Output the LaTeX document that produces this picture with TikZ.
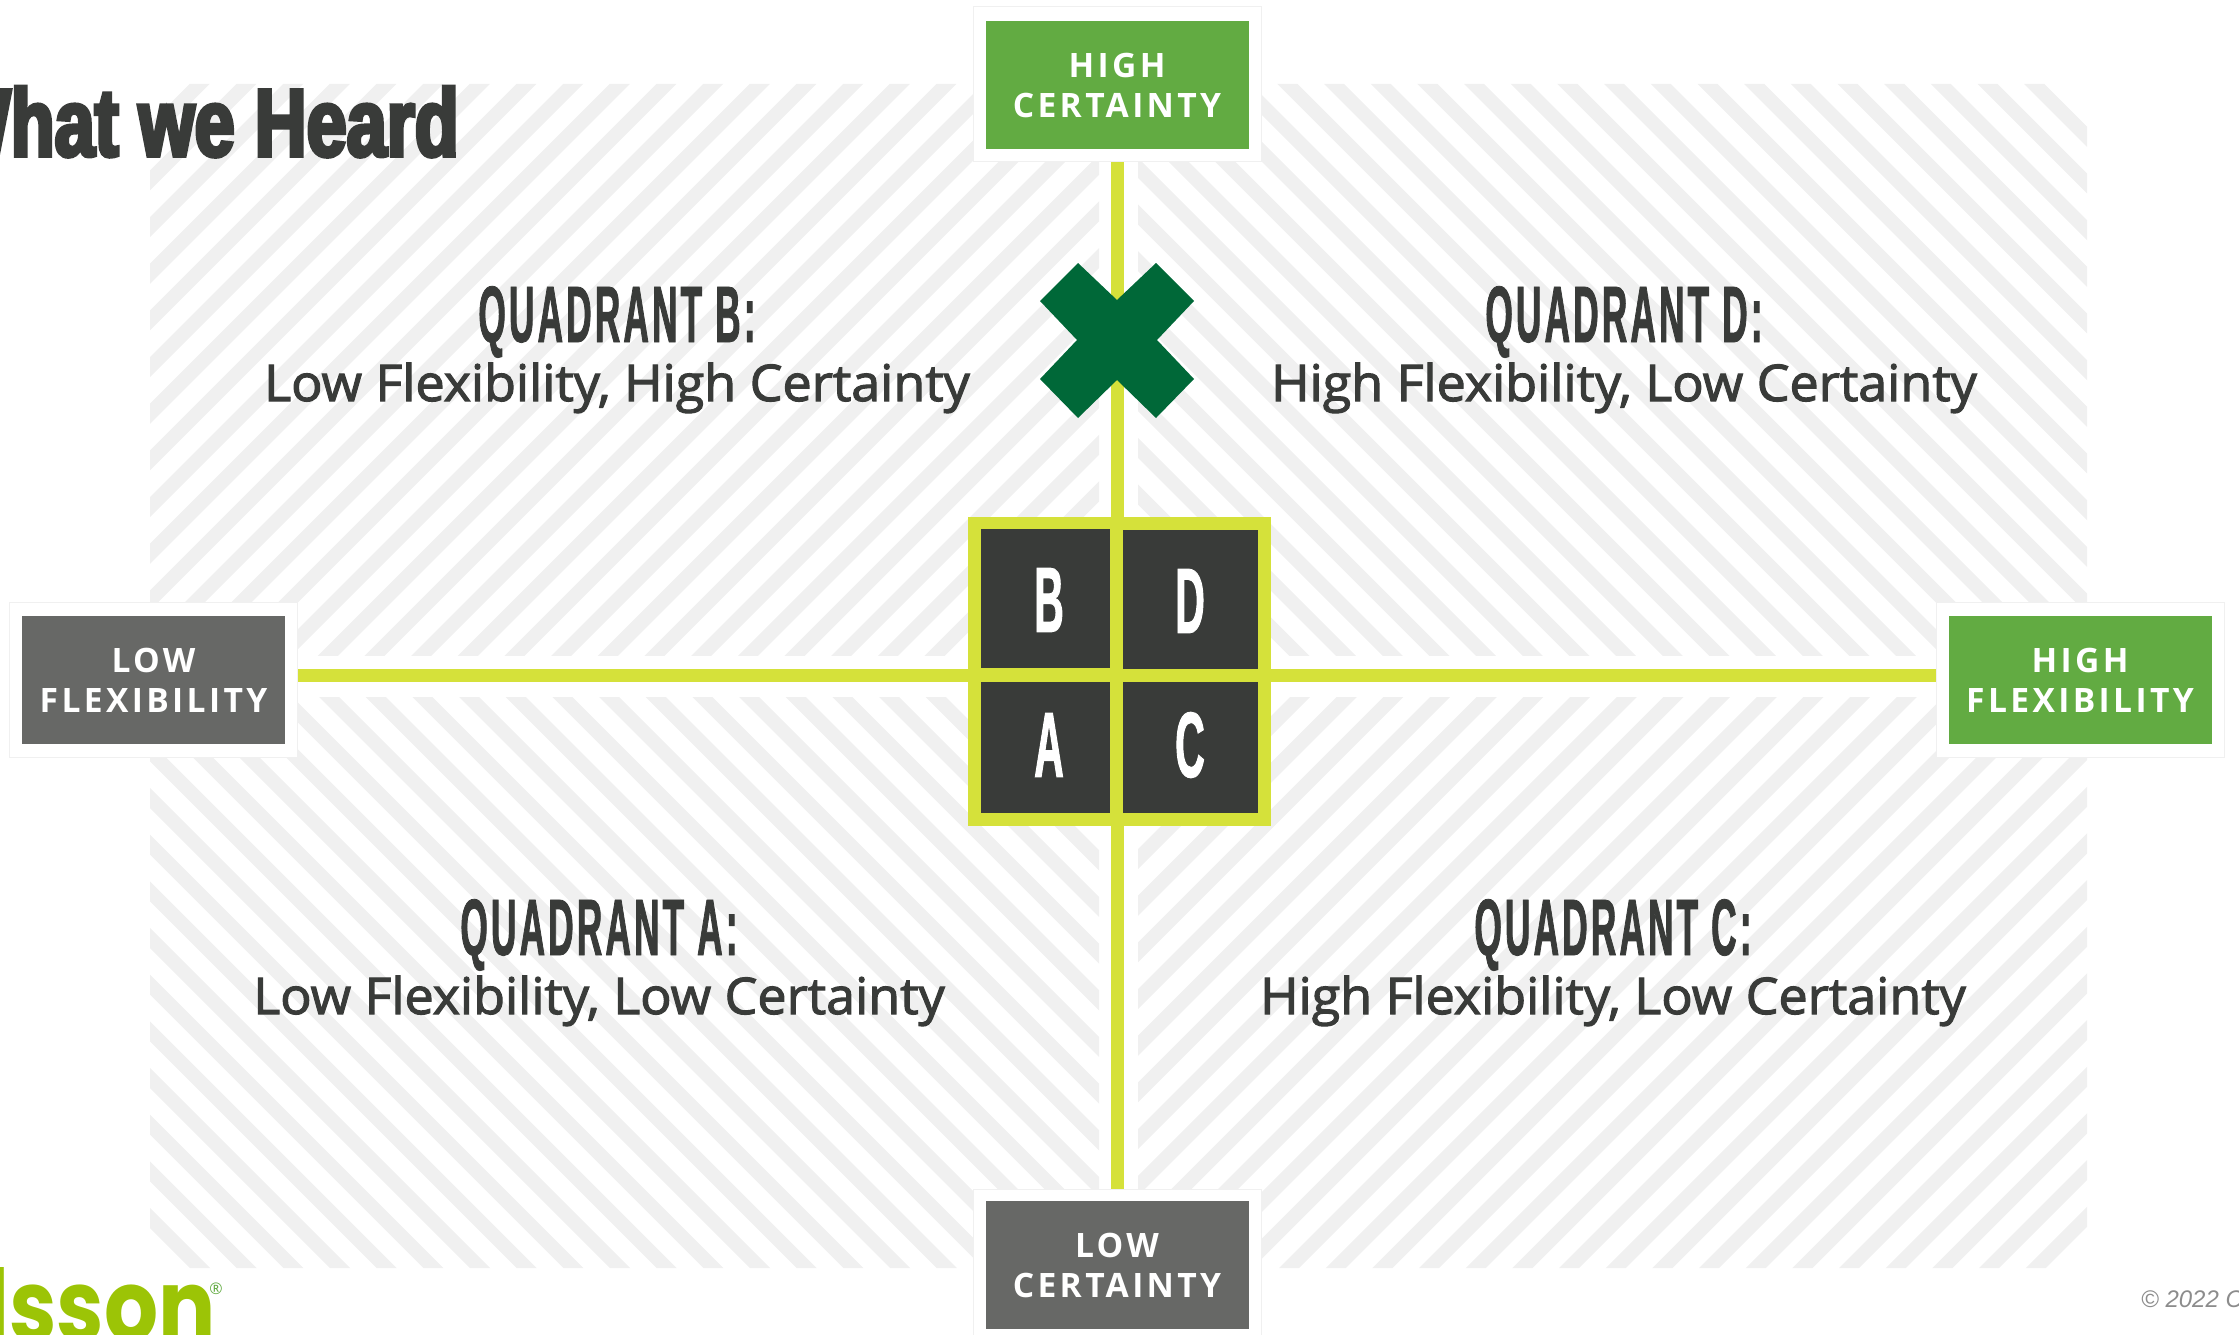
\documentclass[tikz,border=0pt]{standalone}
\usepackage{fontspec}
\setmainfont{Open Sans}
\newfontfamily\bodyfont[FakeBold=2.2,FakeStretch=1.03]{Open Sans}
\newfontfamily\tagfont[LetterSpace=10]{Open Sans}
\newfontfamily\headfont[FakeStretch=0.44,LetterSpace=4,FakeBold=1]{Liberation Sans Bold}
\newfontfamily\titlefont[FakeStretch=0.75,FakeBold=4]{Liberation Sans Bold}
\newfontfamily\logofont[FakeStretch=0.85]{Poppins}
\newfontfamily\copyfont{Liberation Sans Italic}
\definecolor{ink}{HTML}{393B39}
\definecolor{lime}{HTML}{D5E13A}
\definecolor{leaf}{HTML}{62AB42}
\definecolor{slate}{HTML}{676866}
\definecolor{forest}{HTML}{006838}
\definecolor{stripe}{HTML}{F0F0F0}
\definecolor{logogreen}{HTML}{9CC406}
\tikzset{
  x=1pt,y=-1pt,
  stripeline/.style={stripe,line width=14.2pt},
  halo/.style={fill=white,draw=black!6,line width=1pt,minimum width=288pt,minimum height=155pt,inner sep=0pt},
  tagbox/.style={minimum width=263pt,minimum height=128pt,inner sep=0pt,text=white,align=center,
    font=\tagfont\bfseries\fontsize{33.6}{40}\selectfont},
  axisline/.style={lime,line width=13pt},
  cell/.style={fill=ink,inner sep=0pt},
  cellmark/.style={inner sep=0pt,text=white,font=\headfont\fontsize{93}{93}\selectfont},
  qhead/.style={text=ink,inner sep=0pt,anchor=base,font=\headfont\fontsize{80}{80}\selectfont},
  qbody/.style={text=ink,inner sep=0pt,anchor=base,font=\bodyfont\fontsize{50.5}{50.5}\selectfont},
}
\begin{document}
\begin{tikzpicture}
\useasboundingbox (0,0) rectangle (2239,1335);
\clip (0,0) rectangle (2239,1335);
% logo
\node[anchor=base west,inner sep=0pt,text=logogreen,font=\logofont\bfseries\fontsize{100}{100}\selectfont] (logo) at (-16,1341) {lsson};
\node[inner sep=0pt,text=leaf,font=\fontsize{16}{16}\selectfont] (reg) at (216,1289) {®};
% hatching
\begin{scope}
  \clip[rounded corners=35pt] (150,84) -- (150,900) -- (1099,900) -- (1099,84) -- cycle;
  \clip (150,84) rectangle (1099,655);
  \foreach \k in {-3,...,33} \draw[stripeline] ({283.7+46.67*\k},0) -- ++(-1000,1000);
\end{scope}
\begin{scope}
  \clip[rounded corners=35pt] (1138,84) -- (1138,900) -- (2087,900) -- (2087,84) -- cycle;
  \clip (1138,84) rectangle (2087,655);
  \foreach \k in {-16,...,20} \draw[stripeline] ({1203.5+46.67*\k},0) -- ++(1000,1000);
\end{scope}
\begin{scope}
  \clip[rounded corners=35pt] (150,500) -- (150,1268) -- (1099,1268) -- (1099,500) -- cycle;
  \clip (150,697) rectangle (1099,1268);
  \foreach \k in {-3,...,34} \draw[stripeline] ({240+46.67*\k},1308) -- ++(-1100,-1100);
\end{scope}
\begin{scope}
  \clip[rounded corners=35pt] (1138,500) -- (1138,1268) -- (2087,1268) -- (2087,500) -- cycle;
  \clip (1138,697) rectangle (2087,1268);
  \foreach \k in {-34,...,6} \draw[stripeline] ({1902.5+46.67*\k},1308) -- ++(1100,-1100);
\end{scope}
% title
\node[anchor=base east,inner sep=0pt,text=ink,font=\titlefont\fontsize{96}{96}\selectfont] (title) at (459,156) {What we Heard};
% outer white plates
\node[halo] (topplate) at (1117,84.5) {};
\node[halo] (botplate) at (1117,1266.5) {};
\node[halo] (leftplate) at (153.5,679.5) {};
\node[halo] (rightplate) at (2080,679.5) {};
% centre frame and axes
\node[fill=lime,minimum width=303pt,minimum height=309pt,inner sep=0pt] (frame) at (1119.5,671.5) {};
\draw[axisline] (topplate.south) -- (botplate.north);
\draw[axisline] (leftplate.east |- 0,675) -- (rightplate.west |- 0,675);
% cross mark
\fill[forest] (1117,300) -- (1156,263) -- (1194,301) -- (1157,340) -- (1194,379) -- (1156,418) -- (1117,380) -- (1078,418) -- (1040,379) -- (1077,340) -- (1040,301) -- (1078,263) -- cycle;
% cells
\node[cell,minimum width=129pt,minimum height=139pt] (cb) at (1045.5,598.5) {};
\node[cell,minimum width=135pt,minimum height=139pt] (cd) at (1190.5,599.5) {};
\node[cell,minimum width=129pt,minimum height=131pt] (ca) at (1045.5,747.5) {};
\node[cell,minimum width=135pt,minimum height=131pt] (cc) at (1190.5,747.5) {};
\node[cellmark] (mb) at (1049,600) {B};
\node[cellmark] (md) at (1190,601) {D};
\node[cellmark] (ma) at (1049,745) {A};
\node[cellmark] (mc) at (1190,745) {C};
% tags
\node[tagbox,fill=leaf] (high certainty) at (topplate.center |- 0,85) {HIGH\\CERTAINTY};
\node[tagbox,fill=slate] (low certainty) at (botplate.center |- 0,1265) {LOW\\CERTAINTY};
\node[tagbox,fill=slate] (low flexibility) at (153.5,680) {LOW\\FLEXIBILITY};
\node[tagbox,fill=leaf] (high flexibility) at (2080,680) {HIGH\\FLEXIBILITY};
% quadrant texts
\node[qhead] (qb) at (617,342) {QUADRANT B:};
\node[qbody] (qbb) at (617,401) {Low Flexibility, High Certainty};
\node[qhead] (qd) at (1624,342) {QUADRANT D:};
\node[qbody] (qdb) at (1624,401) {High Flexibility, Low Certainty};
\node[qhead] (qa) at (599,955) {QUADRANT A:};
\node[qbody] (qab) at (599,1014) {Low Flexibility, Low Certainty};
\node[qhead] (qc) at (1613,955) {QUADRANT C:};
\node[qbody] (qcb) at (1613,1014) {High Flexibility, Low Certainty};
% copyright
\node[anchor=base west,inner sep=0pt,text=black!45,font=\copyfont\fontsize{24}{24}\selectfont] (copy) at (2141,1307) {© 2022 C};
\end{tikzpicture}
\end{document}
